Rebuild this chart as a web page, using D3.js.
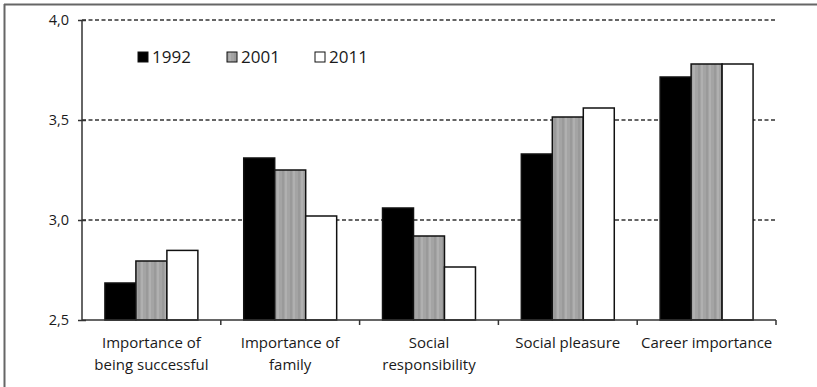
<!DOCTYPE html>
<html lang="en">
<head>
<meta charset="UTF-8">
<title>Values by year</title>
<script src="https://d3js.org/d3.v7.min.js"></script>
<style>
  body { margin: 0; background: #fff; }
  svg text { font-family: "Open Sans", Lato, sans-serif; fill: #1a1a1a; }
</style>
</head>
<body>
<script>
// data
const categories = [
  ["Importance of", "being successful"],
  ["Importance of", "family"],
  ["Social", "responsibility"],
  ["Social pleasure"],
  ["Career importance"]
];
const years = ["1992", "2001", "2011"];
const values1992 = [2.685, 3.31, 3.06, 3.33, 3.715];
const values2001 = [2.795, 3.25, 2.92, 3.515, 3.78];
const values2011 = [2.848, 3.02, 2.765, 3.56, 3.78];
const yTicks = [2.5, 3.0, 3.5, 4.0];
const gridTicks = [3.0, 3.5, 4.0];

const W = 817, H = 387;
const m = {left: 82, right: 776, top: 20, bottom: 320};

const svg = d3.select("body").append("svg")
  .attr("width", W).attr("height", H);

// vertical-stripe texture for the grey bars
const defs = svg.append("defs");
const pat = defs.append("pattern")
  .attr("id", "grey").attr("patternUnits", "userSpaceOnUse")
  .attr("width", 8).attr("height", 8);
pat.append("rect").attr("width", 8).attr("height", 8).attr("fill", "#a4a4a4");
pat.append("rect").attr("x", 2).attr("width", 2).attr("height", 8).attr("fill", "#9a9a9a");
pat.append("rect").attr("x", 5).attr("width", 2).attr("height", 8).attr("fill", "#b0b0b0");

// outer frame (top and left only)
svg.append("line").attr("x1", 4).attr("x2", W).attr("y1", 4.5).attr("y2", 4.5)
  .attr("stroke", "#666").attr("stroke-width", 2);
svg.append("line").attr("x1", 4.5).attr("x2", 4.5).attr("y1", 4).attr("y2", H)
  .attr("stroke", "#666").attr("stroke-width", 2);

const x = d3.scaleBand().domain(d3.range(categories.length)).range([m.left, m.right]);
const xs = d3.scaleBand().domain(years).range([0, x.bandwidth()]).paddingOuter(0.74);
const y = d3.scaleLinear().domain([2.5, 4.0]).range([m.bottom, m.top]);

// dashed grid
svg.append("g").selectAll("line").data(gridTicks).join("line")
  .attr("x1", m.left).attr("x2", m.right)
  .attr("y1", d => y(d)).attr("y2", d => y(d))
  .attr("stroke", "#333").attr("stroke-width", 1.3)
  .attr("stroke-dasharray", "4,2.5");

// bars
const series = [values1992, values2001, values2011];
const fills = ["#000", "url(#grey)", "#fff"];
const rows = [];
series.forEach((vals, s) => vals.forEach((v, i) => rows.push({i, s, v})));
svg.append("g").selectAll("rect").data(rows).join("rect")
  .attr("x", d => x(d.i) + xs(years[d.s]))
  .attr("width", xs.bandwidth())
  .attr("y", d => y(d.v))
  .attr("height", d => y(2.5) - y(d.v))
  .attr("fill", d => fills[d.s])
  .attr("stroke", "#111").attr("stroke-width", 1.5);

// y axis
const yAxis = svg.append("g").attr("transform", `translate(${m.left},0)`)
  .call(d3.axisLeft(y).tickValues(yTicks).tickSize(4)
    .tickFormat(d => d3.format(".1f")(d).replace(".", ",")));
yAxis.select(".domain").attr("stroke", "#333").attr("stroke-width", 1.5)
  .attr("d", `M0,${m.top}V${m.bottom}`);
yAxis.selectAll(".tick line").attr("x1", -4).attr("x2", 4)
  .attr("stroke", "#333").attr("stroke-width", 1.5);
yAxis.selectAll(".tick text").attr("x", -13)
  .style("font-size", "14.5px").attr("fill", "#1a1a1a");

// x axis
const xAxis = svg.append("g").attr("transform", `translate(0,${m.bottom})`);
xAxis.append("line").attr("x1", m.left).attr("x2", m.right)
  .attr("stroke", "#333").attr("stroke-width", 1.5);
const bounds = d3.range(categories.length + 1).map(i => m.left + i * x.step());
xAxis.selectAll(".tk").data(bounds.slice(1)).join("line")
  .attr("x1", d => d).attr("x2", d => d).attr("y1", 0).attr("y2", 5)
  .attr("stroke", "#333").attr("stroke-width", 1.5);

const labels = xAxis.selectAll(".lab").data(categories).join("text")
  .attr("text-anchor", "middle")
  .attr("transform", (d, i) => `translate(${x(i) + x.bandwidth() / 2},28)`)
  .style("font-size", "15px");
labels.selectAll("tspan").data(d => d).join("tspan")
  .attr("x", 0).attr("dy", (d, j) => j === 0 ? 0 : 22)
  .text(d => d);

// legend
const legendX = [138, 227, 315];
const legend = svg.append("g");
years.forEach((yr, s) => {
  legend.append("rect").attr("x", legendX[s]).attr("y", 52)
    .attr("width", 10).attr("height", 10)
    .attr("fill", fills[s]).attr("stroke", "#111").attr("stroke-width", 1);
  legend.append("text").attr("x", legendX[s] + 14).attr("y", 63)
    .style("font-size", "17px").text(yr);
});
</script>
</body>
</html>
